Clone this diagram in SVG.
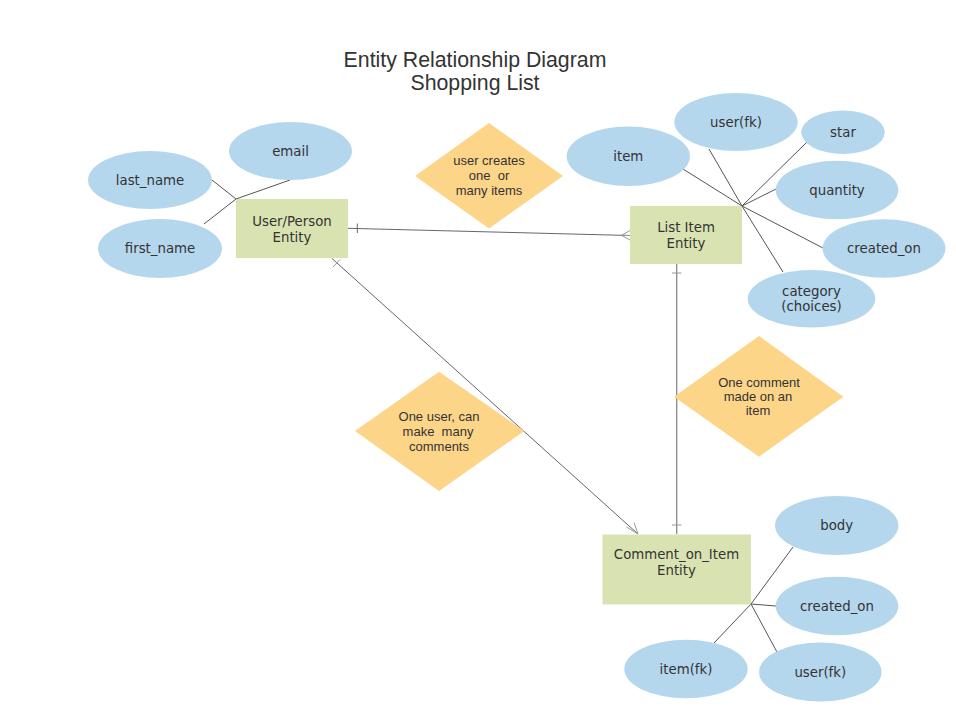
<svg xmlns="http://www.w3.org/2000/svg" width="956" height="718" viewBox="0 0 956 718">
<style>
.attr{fill:#b5d7ee;stroke:none}
.ent{fill:#d9e3b1;stroke:none}
.rel{fill:#fcd589;stroke:none}
.t{font-family:"DejaVu Sans",Verdana,sans-serif;font-size:13.3px;fill:#333;text-anchor:middle}
.d{font-family:"Liberation Sans",Arial,sans-serif;font-size:13px;fill:#333;text-anchor:middle;white-space:pre}
.title{font-family:"Liberation Sans",Arial,sans-serif;font-size:21.3px;fill:#333;text-anchor:middle}
.al{stroke:#555;stroke-width:1;fill:none}
.cn{stroke:#666;stroke-width:1;fill:none}
.cf{stroke:#999;stroke-width:1;fill:none}
</style>
<rect width="956" height="718" fill="#fff"/>
<g id="title">
<text class="title" x="475" y="67">Entity Relationship Diagram</text>
<text class="title" x="475" y="90">Shopping List</text>
</g>
<g id="connectors">
<line class="al" x1="212" y1="180" x2="236" y2="199"/>
<line class="al" x1="290" y1="180" x2="236" y2="199"/>
<line class="al" x1="204" y1="224" x2="236" y2="199"/>
<line class="al" x1="683" y1="169" x2="742" y2="206"/>
<line class="al" x1="709" y1="149" x2="742" y2="206"/>
<line class="al" x1="807" y1="142" x2="742" y2="206"/>
<line class="al" x1="776" y1="189" x2="742" y2="206"/>
<line class="al" x1="823" y1="248" x2="742" y2="206"/>
<line class="al" x1="783" y1="272" x2="742" y2="206"/>
<line class="al" x1="793" y1="547" x2="751" y2="604"/>
<line class="al" x1="714" y1="643" x2="751" y2="604"/>
<line class="al" x1="776" y1="606" x2="751" y2="604"/>
<line class="al" x1="777" y1="652" x2="751" y2="604"/>
<line class="cn" x1="348" y1="228.3" x2="630" y2="235.5"/>
<line class="cn" x1="357.3" y1="223.5" x2="357.3" y2="233"/>
<path class="cf" d="M630 230.5 L621.5 235.3 L630 240 M621.5 235.3 L630 235.5"/>
<line class="cn" x1="332" y1="258.5" x2="638" y2="534"/>
<line class="cf" x1="340" y1="259.5" x2="333" y2="267"/>
<path class="cf" d="M626.5 527 L638 534 L634 522.5"/>
<line class="cf" x1="676.7" y1="264" x2="676.7" y2="534" style="stroke:#888;stroke-width:1.3"/>
<line class="cf" x1="672" y1="273" x2="681.5" y2="273"/>
<line class="cf" x1="672" y1="525" x2="681.5" y2="525"/>
</g>
<g id="user_entity">
<rect class="ent" x="236" y="199" width="112" height="59"/>
<text class="t" x="292" y="226">User/Person</text>
<text class="t" x="292" y="242">Entity</text>
</g>
<g id="list_item_entity">
<rect class="ent" x="630" y="206" width="112" height="58"/>
<text class="t" x="686" y="232">List Item</text>
<text class="t" x="686" y="248">Entity</text>
</g>
<g id="comment_entity">
<rect class="ent" x="602.5" y="534.5" width="148.5" height="70"/>
<text class="t" x="676.5" y="559">Comment_on_Item</text>
<text class="t" x="676.5" y="575">Entity</text>
</g>
<g id="email"><ellipse class="attr" cx="290.5" cy="151" rx="61.5" ry="29"/><text class="t" x="290.5" y="155.5">email</text></g>
<g id="last_name"><ellipse class="attr" cx="150" cy="180" rx="62" ry="29"/><text class="t" x="150" y="184.5">last_name</text></g>
<g id="first_name"><ellipse class="attr" cx="160" cy="248.5" rx="62" ry="29.5"/><text class="t" x="160" y="253">first_name</text></g>
<g id="item"><ellipse class="attr" cx="628.3" cy="156.3" rx="61.7" ry="29.7"/><text class="t" x="628.3" y="160.8">item</text></g>
<g id="user_fk"><ellipse class="attr" cx="736" cy="122" rx="61.7" ry="29"/><text class="t" x="736" y="126.5">user(fk)</text></g>
<g id="star"><ellipse class="attr" cx="843" cy="132.3" rx="41.8" ry="21.7"/><text class="t" x="843" y="136.8">star</text></g>
<g id="quantity"><ellipse class="attr" cx="837" cy="190" rx="61.3" ry="29.3"/><text class="t" x="837" y="194.5">quantity</text></g>
<g id="created_on_item"><ellipse class="attr" cx="884" cy="248.5" rx="61.5" ry="29.2"/><text class="t" x="884" y="253">created_on</text></g>
<g id="category"><ellipse class="attr" cx="811.5" cy="298.7" rx="63.8" ry="28.7"/><text class="t" x="811.5" y="295.5">category</text><text class="t" x="811.5" y="311">(choices)</text></g>
<g id="body"><ellipse class="attr" cx="836.7" cy="525.5" rx="61.7" ry="29.5"/><text class="t" x="836.7" y="530">body</text></g>
<g id="created_on_comment"><ellipse class="attr" cx="837" cy="606" rx="61.3" ry="29.2"/><text class="t" x="837" y="610.5">created_on</text></g>
<g id="item_fk"><ellipse class="attr" cx="686" cy="669" rx="61.7" ry="29.2"/><text class="t" x="686" y="673.5">item(fk)</text></g>
<g id="user_fk_comment"><ellipse class="attr" cx="820.3" cy="672" rx="61.3" ry="29.5"/><text class="t" x="820.3" y="676.5">user(fk)</text></g>
<g id="rel_creates">
<polygon class="rel" points="489,123 563,176 489,228.5 415,176"/>
<text class="d" x="489" y="165">user creates</text>
<text class="d" x="489" y="180">one  or</text>
<text class="d" x="489" y="195">many items</text>
</g>
<g id="rel_user_comments">
<polygon class="rel" points="439,371.7 524.3,431 439,491 355,431"/>
<text class="d" x="439" y="421">One user, can</text>
<text class="d" x="438" y="436">make  many</text>
<text class="d" x="439" y="451">comments</text>
</g>
<g id="rel_comment_item">
<polygon class="rel" points="759,336 843.3,396.7 759,456.7 674,396.7"/>
<text class="d" x="759" y="386.5">One comment</text>
<text class="d" x="758" y="401">made on an</text>
<text class="d" x="758" y="415">item</text>
</g>
</svg>
